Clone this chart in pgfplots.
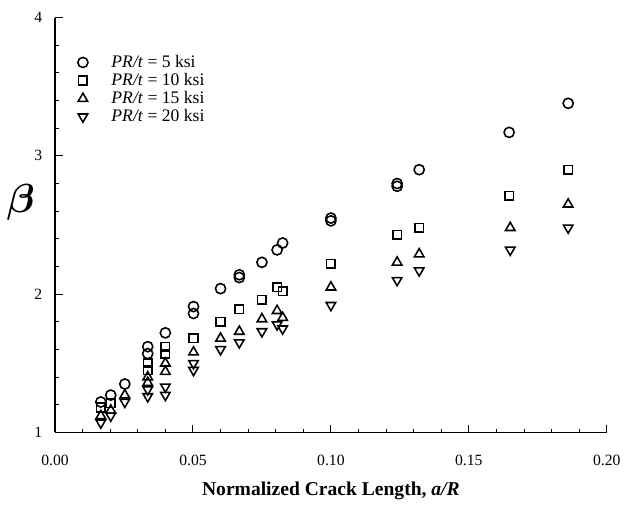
\documentclass[border=0pt]{standalone}
\usepackage{pgfplots}
\pgfplotsset{compat=1.18}
\usepackage{amsmath}
\usepackage{bm}
\usepackage{fontspec}
\setmainfont{Liberation Serif}
\begin{document}
\begin{tikzpicture}
\begin{axis}[
  scale only axis,
  width=282pt, height=212pt,
  xmin=0, xmax=0.2, ymin=1, ymax=4,
  axis lines=left,
  axis line style={-, line width=0.6pt},
  xtick={0,0.05,0.1,0.15,0.2},
  xticklabels={0.00,0.05,0.10,0.15,0.20},
  minor x tick num=4,
  ytick={1,2,3,4},
  minor y tick num=4,
  tick align=inside,
  major tick length=4pt, minor tick length=2pt,
  tick style={black, line width=0.5pt},
  /pgf/number format/assume math mode=true,
  ticklabel style={font=\footnotesize},
  xticklabel style={yshift=-8pt},
  yticklabel style={xshift=-3pt},
  xlabel={\textbf{Normalized Crack Length, \textit{a/R}}},
  xlabel style={font=\normalsize, yshift=-1.5pt},
  ylabel={$\bm{\beta}$},
  ylabel style={rotate=-90, font=\huge, at={(ticklabel cs:0.555)}, xshift=7pt},
  legend style={draw=none, fill=none, at={(0.03,0.93)}, anchor=north west, font=\small, row sep=-2.5pt,
    /tikz/every odd column/.append style={column sep=10pt}},
  legend cell align=left,
  clip=false,
  after end axis/.code={
    \path (rel axis cs:0,0) ++(0pt,-44pt);
    \path (rel axis cs:1,1) ++(0pt,9pt);
  },
]
\addplot[only marks, mark=o, mark size=2.6pt, black, thick] coordinates {
(0.0166,1.22)(0.0202,1.27)(0.0253,1.35)(0.0336,1.62)(0.0336,1.57)(0.040,1.72)(0.0502,1.91)(0.0502,1.86)(0.060,2.04)(0.0668,2.14)(0.0668,2.12)(0.075,2.23)(0.0805,2.32)(0.0825,2.37)(0.100,2.55)(0.100,2.53)(0.124,2.80)(0.124,2.78)(0.132,2.90)(0.1646,3.17)(0.186,3.38)
};
\addlegendentry{\textit{PR/t} = 5 ksi}
\addplot[only marks, mark=square, mark size=2.2pt, black, thick] coordinates {
(0.0166,1.18)(0.0202,1.21)(0.0336,1.50)(0.0336,1.45)(0.040,1.62)(0.040,1.57)(0.0502,1.68)(0.060,1.80)(0.0668,1.89)(0.075,1.96)(0.0805,2.05)(0.0825,2.02)(0.100,2.22)(0.124,2.43)(0.132,2.48)(0.1646,2.71)(0.186,2.90)
};
\addlegendentry{\textit{PR/t} = 10 ksi}
\addplot[only marks, mark=triangle, mark size=2.8pt, black, thick] coordinates {
(0.0166,1.12)(0.0202,1.16)(0.0253,1.27)(0.0336,1.40)(0.0336,1.36)(0.040,1.50)(0.040,1.44)(0.0502,1.58)(0.060,1.68)(0.0668,1.73)(0.075,1.82)(0.0805,1.88)(0.0825,1.83)(0.100,2.05)(0.124,2.23)(0.132,2.29)(0.165,2.48)(0.186,2.65)
};
\addlegendentry{\textit{PR/t} = 15 ksi}
\addplot[only marks, mark=triangle, mark options={rotate=180}, mark size=2.8pt, black, thick] coordinates {
(0.0166,1.07)(0.0202,1.12)(0.0253,1.22)(0.0336,1.31)(0.0336,1.26)(0.040,1.33)(0.040,1.27)(0.0502,1.50)(0.0502,1.45)(0.060,1.60)(0.0668,1.65)(0.075,1.73)(0.0805,1.78)(0.0825,1.75)(0.100,1.92)(0.124,2.10)(0.132,2.17)(0.165,2.32)(0.186,2.48)
};
\addlegendentry{\textit{PR/t} = 20 ksi}
\end{axis}
\end{tikzpicture}
\end{document}
